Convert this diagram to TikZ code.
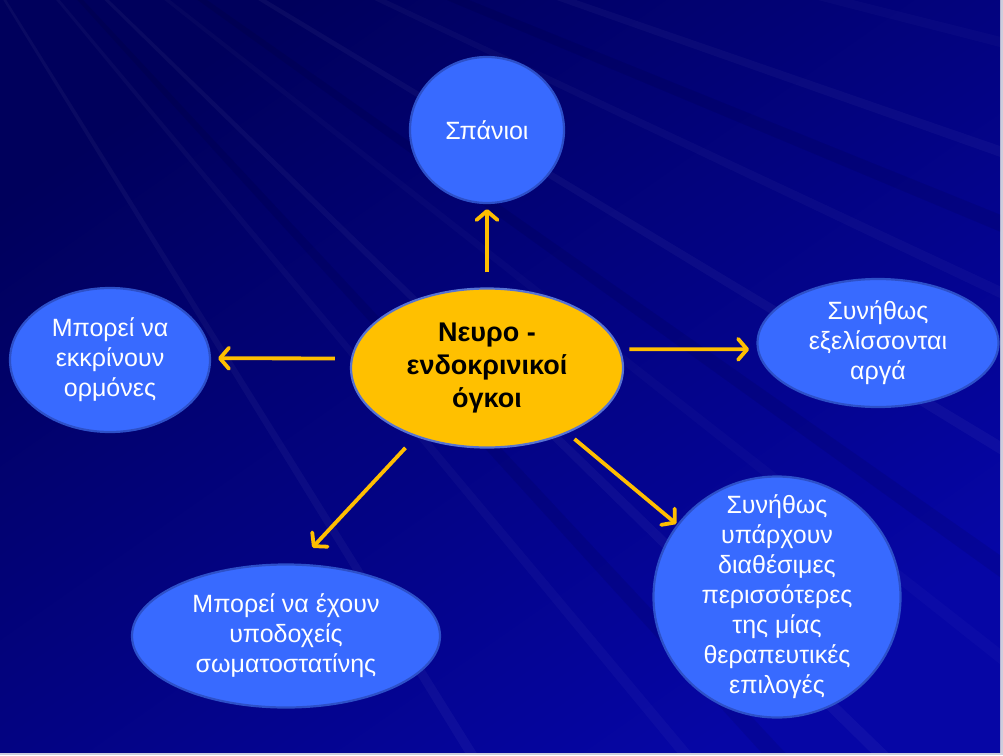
\documentclass[tikz,border=0pt]{standalone}
\usepackage{fontspec}
\setmainfont{Liberation Sans}
\usetikzlibrary{shapes.geometric,arrows.meta}
\definecolor{bgdark}{RGB}{0,0,92}
\definecolor{bglight}{RGB}{6,6,165}
\definecolor{bubblefill}{RGB}{56,106,255}
\definecolor{bubbleedge}{RGB}{45,80,200}
\definecolor{coreyellow}{RGB}{255,192,0}
\definecolor{linkgold}{RGB}{255,190,0}
\definecolor{framegrey}{RGB}{205,205,220}
\begin{document}
\begin{tikzpicture}[
    x=1pt, y=-1pt,
    every node/.style={align=center, text=white, font=\fontsize{25}{30}\selectfont},
    bubble/.style={ellipse, draw=bubbleedge, line width=2.2pt, fill=bubblefill, inner sep=-25pt},
    core/.style={bubble, draw=bubbleedge!80!white, fill=coreyellow, text=black,
        font=\fontsize{27}{33}\selectfont\bfseries},
    link/.style={draw=linkgold, line width=3.8pt,
        -{Straight Barb[length=9pt, width=21pt, line cap=round, line join=round]}}
]
% slide background
\fill[framegrey] (0,0) rectangle (1003,755);
\shade[shading=axis, top color=bgdark, bottom color=bglight, shading angle=35] (0,0) rectangle (1000,752);
\begin{scope}
    \clip (0,0) rectangle (1000,752);
    \foreach \a/\o in {58/0.04, 50/0.03, 44/0.04, 38/0.025, 31/0.04, 25/0.03, 19/0.035, 14/0.025}
        \fill[white, opacity=\o] (-150,-250) -- ++(\a:1900) -- ++(\a+90:16) -- cycle;
    \foreach \a in {47, 35, 22}
        \fill[black, opacity=0.08] (-150,-250) -- ++(\a:1900) -- ++(\a+90:24) -- cycle;
\end{scope}

\node[core, minimum width=272, minimum height=159] (tumours) at (487,368) {Νευρο -\\ενδοκρινικοί\\όγκοι};
\node[bubble, minimum width=154, minimum height=146] (rare) at (487,130) {Σπάνιοι};
\node[bubble, minimum width=200, minimum height=144] (secrete) at (110,360) {Μπορεί να\\εκκρίνουν\\ορμόνες};
\node[bubble, minimum width=241, minimum height=128] (slow) at (878,343) {Συνήθως\\εξελίσσονται\\αργά};
\node[bubble, minimum width=308, minimum height=143] (receptors) at (286,636) {Μπορεί να έχουν\\υποδοχείς\\σωματοστατίνης};
\node[bubble, minimum width=247, minimum height=241] (options) at (777,597) {Συνήθως\\υπάρχουν\\διαθέσιμες\\περισσότερες\\της μίας\\θεραπευτικές\\επιλογές};

\draw[link, shorten <=15pt, shorten >=5pt] (tumours.north) -- (rare.south);
\draw[link, shorten <=16pt, shorten >=7pt] (tumours.176) -- (secrete.1);
\draw[link, shorten <=9pt, shorten >=8pt] (tumours.8) -- (slow.183);
\draw[link, shorten <=15pt, shorten >=22pt] (tumours.224) -- (receptors.81);
\draw[link, shorten <=9pt, shorten >=1pt] (tumours.321) -- (options.144);
\end{tikzpicture}
\end{document}
